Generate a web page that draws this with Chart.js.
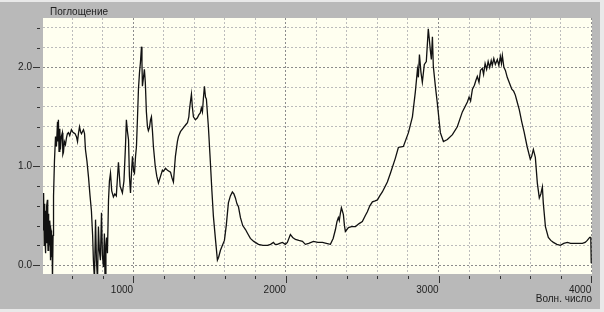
<!DOCTYPE html>
<html>
<head>
<meta charset="utf-8">
<script src="https://cdn.jsdelivr.net/npm/chart.js@4/dist/chart.umd.min.js"></script>
<style>
html,body{margin:0;padding:0;background:#b9b9b9;}
canvas{display:block;}
</style>
</head>
<body>
<canvas id="c" width="604" height="312"></canvas>
<script>
const wavenumber = [410,412,414,416,418,420,422,424,426,428,430,432,434,436,439,441,443,445,447,449,452,454,456,458,459,461,463,465,467,469,472,476,479,485,492,498,505,508,511,515,520,524,530,537,540,544,550,557,564,570,577,585,596,603,609,620,629,636,642,649,656,662,668,675,682,688,698,708,718,727,735,740,747,754,760,767,773,779,786,793,799,806,812,816,822,826,832,839,845,852,860,871,880,890,904,915,930,940,950,956,963,970,976,983,990,996,1003,1009,1016,1022,1029,1035,1042,1048,1055,1058,1061,1068,1074,1080,1087,1094,1100,1107,1114,1120,1127,1133,1145,1155,1166,1180,1192,1200,1212,1225,1245,1255,1264,1277,1290,1297,1310,1330,1345,1356,1365,1369,1376,1382,1388,1395,1408,1421,1430,1440,1447,1454,1460,1467,1474,1480,1493,1506,1516,1526,1540,1552,1560,1572,1585,1598,1610,1624,1637,1650,1660,1670,1680,1690,1703,1718,1736,1750,1768,1790,1821,1850,1880,1900,1919,1930,1945,1960,1978,1997,2010,2030,2045,2063,2085,2109,2128,2150,2181,2210,2240,2265,2292,2310,2325,2335,2344,2350,2357,2364,2370,2377,2384,2390,2400,2410,2430,2456,2480,2501,2520,2534,2550,2567,2585,2600,2615,2632,2665,2685,2717,2737,2770,2803,2829,2848,2862,2868,2875,2885,2894,2907,2920,2933,2940,2946,2953,2960,2966,2980,2992,3012,3032,3058,3091,3123,3156,3189,3200,3210,3222,3235,3245,3254,3265,3275,3287,3295,3305,3315,3325,3335,3345,3352,3362,3372,3385,3395,3405,3412,3418,3428,3438,3450,3460,3470,3480,3492,3503,3515,3529,3545,3560,3580,3601,3610,3621,3634,3647,3660,3670,3680,3686,3700,3719,3735,3752,3775,3798,3820,3844,3865,3883,3910,3942,3960,3974,3990,3997,4000];
const absorbance = [0.40,0.70,0.35,0.73,0.20,0.55,0.62,0.25,0.12,0.45,0.55,0.22,0.30,0.60,0.66,0.28,0.15,0.52,0.49,0.18,0.25,0.45,0.40,0.15,0.05,0.38,0.35,0.08,0.10,0.30,-0.15,0.30,0.70,1.05,1.30,1.20,1.45,1.25,1.47,1.15,1.38,1.17,1.30,1.34,1.12,1.14,1.25,1.22,1.29,1.33,1.34,1.31,1.37,1.35,1.34,1.33,1.30,1.25,1.33,1.40,1.35,1.33,1.35,1.37,1.33,1.17,1.05,0.89,0.70,0.55,0.30,0.05,-0.15,0.46,0.05,-0.15,0.39,0.15,0.05,0.53,0.10,-0.02,0.32,-0.12,0.20,0.28,0.12,0.66,0.85,0.93,0.75,0.69,0.72,0.70,1.04,0.80,0.73,0.85,1.20,1.47,1.35,1.27,0.90,0.73,0.95,1.10,0.95,0.93,1.10,1.20,1.50,1.78,1.95,2.05,2.21,2.05,1.81,1.90,1.98,1.85,1.55,1.40,1.36,1.39,1.47,1.50,1.35,1.20,1.00,0.90,0.83,0.90,0.96,0.95,0.98,0.96,0.94,0.88,0.84,1.10,1.25,1.30,1.35,1.39,1.42,1.44,1.50,1.57,1.66,1.73,1.60,1.50,1.47,1.49,1.52,1.54,1.59,1.55,1.68,1.81,1.70,1.68,1.40,1.04,0.75,0.49,0.25,0.05,0.08,0.15,0.20,0.25,0.40,0.63,0.70,0.74,0.72,0.68,0.62,0.59,0.48,0.40,0.36,0.32,0.27,0.24,0.21,0.20,0.20,0.21,0.23,0.21,0.21,0.22,0.23,0.21,0.23,0.31,0.28,0.26,0.25,0.24,0.21,0.22,0.24,0.23,0.23,0.22,0.21,0.27,0.36,0.44,0.48,0.45,0.52,0.58,0.55,0.51,0.40,0.34,0.36,0.38,0.39,0.39,0.42,0.44,0.50,0.54,0.60,0.64,0.65,0.66,0.70,0.74,0.84,0.93,1.08,1.19,1.20,1.34,1.50,1.75,1.98,1.90,2.13,1.95,1.85,2.03,2.06,2.39,2.28,2.18,2.08,2.31,2.01,1.80,1.64,1.34,1.25,1.27,1.32,1.40,1.55,1.65,1.70,1.66,1.78,1.82,1.87,1.91,1.85,1.97,1.99,1.93,2.04,1.98,2.06,2.00,2.07,2.02,2.09,2.03,2.08,2.02,2.11,2.04,2.12,2.00,1.97,1.90,1.86,1.82,1.78,1.76,1.72,1.65,1.57,1.45,1.35,1.20,1.07,1.10,1.17,1.09,0.83,0.68,0.72,0.79,0.63,0.39,0.28,0.25,0.23,0.21,0.20,0.22,0.23,0.22,0.22,0.22,0.22,0.23,0.25,0.28,0.28,0.02];

const xGridValues = [600,800,1000,1200,1400,1600,1800,2000,2200,2400,2600,2800,3000,3200,3400,3600,3800,4000];
const xLabelValues = [1000,2000,3000,4000];
const xLabelTexts = ['1000','2000','3000','4000'];
const yGridValues = [0,0.2,0.4,0.6,0.8,1.0,1.2,1.4,1.6,1.8,2.0,2.2,2.4];
const yLabelValues = [0,1,2];
const yLabelTexts = ['0.0','1.0','2.0'];
const yTitle = 'Поглощение';
const xTitle = 'Волн. число';

const isMajorX = v => xLabelValues.includes(v);
const isMajorY = v => yLabelValues.some(m => Math.abs(m - v) < 1e-9);
const FONT = '"Liberation Sans", Arial, sans-serif';

const decor = {
  id: 'decor',
  beforeDraw(chart) {
    const {ctx, chartArea: a, width, height} = chart;
    ctx.save();
    ctx.fillStyle = '#b9b9b9';
    ctx.fillRect(0, 0, width, height);
    ctx.fillStyle = '#e9e9e9';
    ctx.fillRect(0, 0, width, 2);
    ctx.fillRect(width - 4, 0, 4, height);
    ctx.fillRect(0, height - 3, width, 3);
    ctx.fillStyle = '#fffff0';
    ctx.fillRect(a.left, a.top, a.right - a.left, a.bottom - a.top);
    ctx.restore();
  },
  afterDraw(chart) {
    const {ctx, chartArea: a, scales} = chart;
    ctx.save();
    ctx.strokeStyle = '#333';
    ctx.lineWidth = 1;
    xGridValues.forEach(v => {
      const px = Math.round(scales.x.getPixelForValue(v)) + 0.5;
      const len = isMajorX(v) ? 7 : 3;
      ctx.beginPath();
      ctx.moveTo(px, a.bottom + 2);
      ctx.lineTo(px, a.bottom + 2 + len);
      ctx.stroke();
    });
    yGridValues.forEach(v => {
      const py = Math.round(scales.y.getPixelForValue(v)) + 0.5;
      const len = isMajorY(v) ? 7 : 3;
      ctx.beginPath();
      ctx.moveTo(a.left - 3 - len, py);
      ctx.lineTo(a.left - 3, py);
      ctx.stroke();
    });
    ctx.fillStyle = '#222';
    ctx.font = '10px ' + FONT;
    ctx.textBaseline = 'middle';
    ctx.textAlign = 'left';
    ctx.fillText(yTitle, a.left + 7, 12);
    ctx.restore();
  }
};

new Chart(document.getElementById('c'), {
  type: 'line',
  data: {
    datasets: [{
      data: wavenumber.map((w, i) => ({x: w, y: absorbance[i]})),
      borderColor: '#111',
      borderWidth: 1.3,
      pointRadius: 0,
      tension: 0,
      fill: false
    }]
  },
  options: {
    responsive: false,
    animation: false,
    devicePixelRatio: 1,
    layout: {padding: {top: 18, right: 12, left: 0, bottom: 0}},
    plugins: {legend: {display: false}, tooltip: {enabled: false}, title: {display: false}},
    scales: {
      x: {
        type: 'linear',
        min: 410,
        max: 4005,
        afterBuildTicks: s => { s.ticks = xGridValues.map(v => ({value: v})); },
        afterFit: s => { s.height = 38; },
        grid: {
          drawTicks: false,
          color: c => (c.tick && isMajorX(c.tick.value)) ? '#8c8c8c' : '#bcbcbc',
          lineWidth: 1
        },
        border: {display: false, dash: [2, 2]},
        ticks: {
          autoSkip: false,
          maxRotation: 0,
          align: 'end',
          padding: 10,
          color: '#222',
          font: {family: FONT, size: 10},
          callback: v => { const i = xLabelValues.indexOf(v); return i >= 0 ? xLabelTexts[i] : ''; }
        },
        title: {
          display: true,
          text: xTitle,
          align: 'end',
          color: '#222',
          font: {family: FONT, size: 10},
          padding: {top: 0, bottom: 7}
        }
      },
      y: {
        type: 'linear',
        min: -0.09,
        max: 2.5,
        afterBuildTicks: s => { s.ticks = yGridValues.map(v => ({value: v})); },
        afterFit: s => { s.width = 43; },
        grid: {
          drawTicks: false,
          color: c => (c.tick && isMajorY(c.tick.value)) ? '#8c8c8c' : '#bcbcbc',
          lineWidth: 1
        },
        border: {display: false, dash: [2, 2]},
        ticks: {
          autoSkip: false,
          padding: 11,
          color: '#222',
          font: {family: FONT, size: 10},
          callback: v => { const i = yLabelValues.findIndex(m => Math.abs(m - v) < 1e-9); return i >= 0 ? yLabelTexts[i] : ''; }
        }
      }
    }
  },
  plugins: [decor]
});
</script>
</body>
</html>
